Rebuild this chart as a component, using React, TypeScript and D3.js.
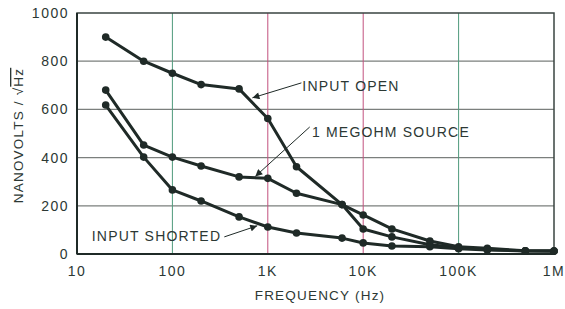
import React from "react";
import * as d3 from "d3";

// frequency (Hz) sampled by each curve
const openFreq = [20, 50, 100, 200, 500, 1000, 2000, 6000, 10000, 20000, 50000, 100000, 200000, 500000, 1000000];
const openNv = [900, 800, 750, 703, 685, 562, 362, 205, 104, 71, 38, 27, 19, 13, 12];

const megFreq = [20, 50, 100, 200, 500, 1000, 2000, 6000, 10000, 20000, 50000, 100000, 200000, 500000, 1000000];
const megNv = [680, 452, 402, 365, 320, 314, 252, 205, 162, 104, 54, 30, 24, 13, 12];

const shortFreq = [20, 50, 100, 200, 500, 1000, 2000, 6000, 10000, 20000, 50000, 100000, 200000, 500000, 1000000];
const shortNv = [618, 402, 266, 220, 154, 112, 87, 66, 46, 33, 30, 22, 17, 12, 12];

const xTicks = [10, 100, 1000, 10000, 100000, 1000000];
const xTickLabels = ["10", "100", "1K", "10K", "100K", "1M"];
const yTicks = [0, 200, 400, 600, 800, 1000];

// callouts: text position (f, nv), arrow from -> to
const callouts = [
  { label: "INPUT OPEN", tf: 2300, tv: 676, anchor: "start", from: [2250, 710], to: [690, 648] },
  { label: "1 MEGOHM SOURCE", tf: 2900, tv: 486, anchor: "start", from: [2750, 527], to: [740, 322] },
  { label: "INPUT SHORTED", tf: 325, tv: 54, anchor: "end", from: [350, 71], to: [775, 117] },
];

const gridColor: Record<number, string> = { 100: "#4f9a7c", 1000: "#c2517e", 10000: "#c2517e", 100000: "#4f9a7c" };

export default function App() {
  const width = 565;
  const height = 309;
  const margin = { top: 13, right: 11, bottom: 55, left: 77 };

  const x = d3.scaleLog().domain([10, 1e6]).range([margin.left, width - margin.right]);
  const y = d3.scaleLinear().domain([0, 1000]).range([height - margin.bottom, margin.top]);

  const line = d3
    .line<[number, number]>()
    .x((d) => x(d[0]))
    .y((d) => y(d[1]));

  const series = [
    d3.zip(openFreq, openNv) as [number, number][],
    d3.zip(megFreq, megNv) as [number, number][],
    d3.zip(shortFreq, shortNv) as [number, number][],
  ];

  const ink = "#1f2a27";
  const textColor = "#2c3834";
  const font = "'Liberation Sans', Arial, sans-serif";

  return (
    <svg
      width={width}
      height={height}
      style={{ position: "absolute", left: 0, top: 0, background: "#fff" }}
      fontFamily={font}
    >
      <defs>
        <marker id="arr" viewBox="0 0 10 10" refX="10" refY="5" markerWidth="9" markerHeight="7" orient="auto" markerUnits="userSpaceOnUse">
          <path d="M0,0 L10,5 L0,10 z" fill={ink} />
        </marker>
      </defs>

      {/* horizontal grid */}
      {yTicks.slice(1, -1).map((t) => (
        <line key={"h" + t} x1={x(10)} x2={x(1e6)} y1={y(t)} y2={y(t)} stroke="#7b7f7d" strokeWidth={1.2} />
      ))}
      {/* vertical grid */}
      {xTicks.slice(1, -1).map((t) => (
        <line key={"v" + t} x1={x(t)} x2={x(t)} y1={y(0)} y2={y(1000)} stroke={gridColor[t]} strokeWidth={1} />
      ))}

      {/* frame */}
      <rect x={x(10)} y={y(1000)} width={x(1e6) - x(10)} height={y(0) - y(1000)} fill="none" stroke="#3a4441" strokeWidth={1.5} />
      <line x1={x(10)} x2={x(10)} y1={y(0)} y2={y(1000)} stroke={ink} strokeWidth={2} />
      <line x1={x(10)} x2={x(1e6)} y1={y(0)} y2={y(0)} stroke={ink} strokeWidth={2} />

      {/* curves */}
      {series.map((s, i) => (
        <g key={"s" + i}>
          <path d={line(s) || ""} fill="none" stroke={ink} strokeWidth={3} strokeLinejoin="round" />
          {s.map((d, j) => (
            <circle key={j} cx={x(d[0])} cy={y(d[1])} r={3.8} fill={ink} />
          ))}
        </g>
      ))}

      {/* callouts */}
      {callouts.map((c) => (
        <g key={c.label}>
          <line
            x1={x(c.from[0])}
            y1={y(c.from[1])}
            x2={x(c.to[0])}
            y2={y(c.to[1])}
            stroke={ink}
            strokeWidth={1}
            markerEnd="url(#arr)"
          />
          <text
            x={x(c.tf)}
            y={y(c.tv)}
            textAnchor={c.anchor}
            fontSize={14}
            letterSpacing={1.2}
            fill={textColor}
          >
            {c.label}
          </text>
        </g>
      ))}

      {/* y tick labels */}
      {yTicks.map((t) => (
        <text key={"yt" + t} x={margin.left - 8} y={y(t)} dy="0.35em" textAnchor="end" fontSize={14} letterSpacing={1.5} fill={textColor}>
          {t}
        </text>
      ))}
      {/* x tick labels */}
      {xTicks.map((t, i) => (
        <text key={"xt" + t} x={x(t)} y={height - margin.bottom + 22} textAnchor="middle" fontSize={14} letterSpacing={1.5} fill={textColor}>
          {xTickLabels[i]}
        </text>
      ))}

      <text x={320} y={300} textAnchor="middle" fontSize={13.5} letterSpacing={1.2} fill={textColor}>
        FREQUENCY (Hz)
      </text>

      <text
        transform={`translate(23, ${(y(0) + y(1000)) / 2 + 2}) rotate(-90)`}
        textAnchor="middle"
        fontSize={13.5}
        letterSpacing={1.2}
        fill={textColor}
      >
        NANOVOLTS / √<tspan textDecoration="overline">Hz</tspan>
      </text>
    </svg>
  );
}
